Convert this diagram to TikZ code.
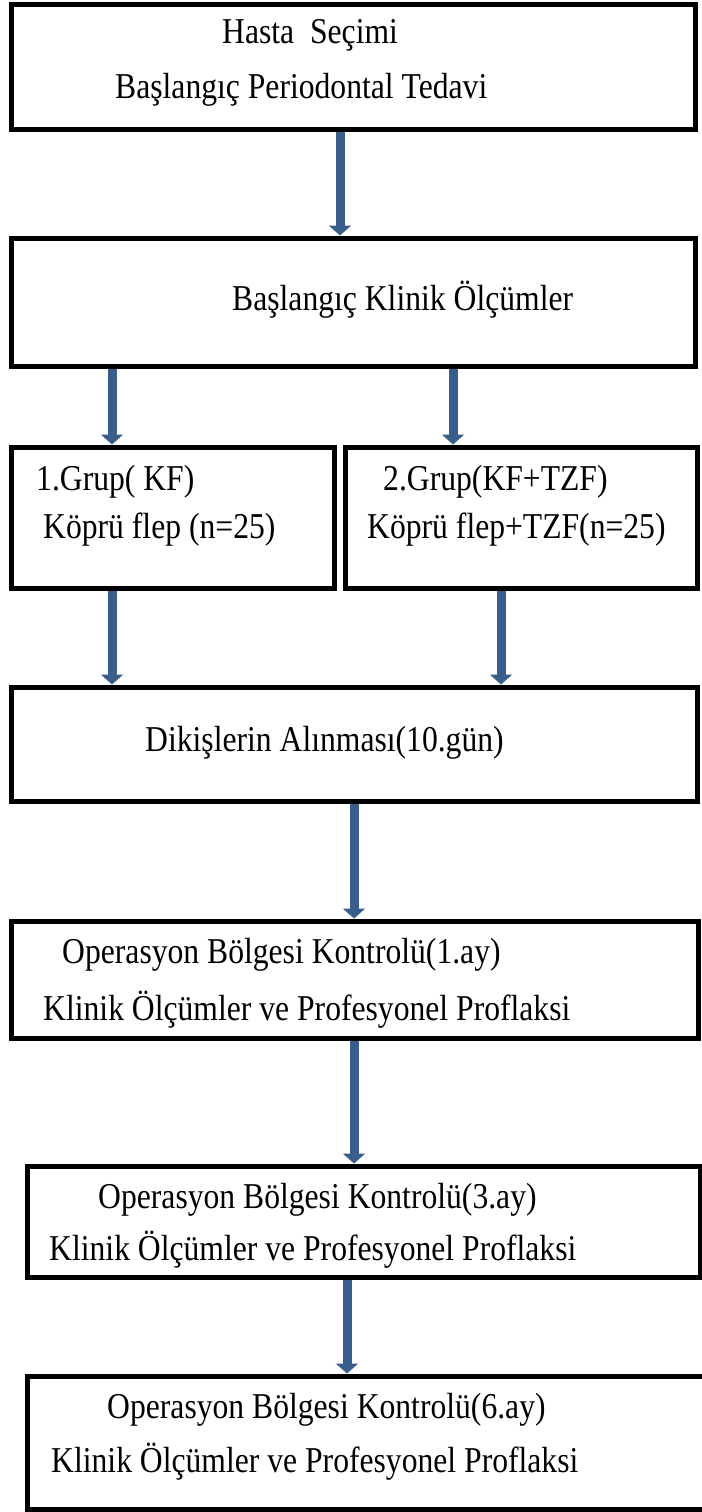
\documentclass[tikz,border=0pt]{standalone}
\usepackage{fontspec}
\setmainfont{Liberation Serif}
\usetikzlibrary{arrows.meta,fit}
\definecolor{flowblue}{RGB}{58,94,140}

\begin{document}
\begin{tikzpicture}[
  x=0.03cm, y=-0.03cm,
  box/.style={draw, line width=0.15cm, inner sep=0pt},
  txt/.style={anchor=west, inner sep=0pt, yscale=1.15, transform shape,
    font=\fontsize{27}{32}\selectfont},
  flow/.style={flowblue, line width=0.27cm,
    -{Triangle[width=0.66cm,length=0.3cm]}},
  ]
  \useasboundingbox (0,0) rectangle (702,1512);
  \clip (0,0) rectangle (702,1512);
  % Boxes
  \node[box, fit={(11,4) (695,129)}] (secim) {};
  \node[box, fit={(11,238) (695,366)}] (olcum) {};
  \node[box, fit={(11,447) (334,588)}] (grupA) {};
  \node[box, fit={(345,447) (697,588)}] (grupB) {};
  \node[box, fit={(11,687) (697,801)}] (dikis) {};
  \node[box, fit={(11,921) (698,1038)}] (ayA) {};
  \node[box, fit={(27,1166) (700,1277)}] (ayB) {};
  \node[box, fit={(27,1376) (720,1509)}] (ayC) {};
  % Texts
  \node[txt] (secim1) at (222,35) {Hasta\ \ Seçimi};
  \node[txt] (secim2) at (115,90) {Başlangıç Periodontal Tedavi};
  \node[txt] (olcum1) at (232,300) {Başlangıç Klinik Ölçümler};
  \node[txt] (grupA1) at (36,482) {1.Grup( KF)};
  \node[txt] (grupA2) at (43,530) {Köprü flep (n=25)};
  \node[txt] (grupB1) at (383,482) {2.Grup(KF+TZF)};
  \node[txt] (grupB2) at (367,530) {Köprü flep+TZF(n=25)};
  \node[txt] (dikis1) at (145,743) {Dikişlerin Alınması(10.gün)};
  \node[txt] (ayA1) at (62,955) {Operasyon Bölgesi Kontrolü(1.ay)};
  \node[txt] (ayA2) at (43,1010) {Klinik Ölçümler ve Profesyonel Proflaksi};
  \node[txt] (ayB1) at (98,1200) {Operasyon Bölgesi Kontrolü(3.ay)};
  \node[txt] (ayB2) at (49,1250) {Klinik Ölçümler ve Profesyonel Proflaksi};
  \node[txt] (ayC1) at (107,1410) {Operasyon Bölgesi Kontrolü(6.ay)};
  \node[txt] (ayC2) at (51,1462) {Klinik Ölçümler ve Profesyonel Proflaksi};
  % Arrow columns
  \coordinate (c1) at (340,0);
  \coordinate (c2) at (112,0);
  \coordinate (c3) at (453,0);
  \coordinate (c4) at (501,0);
  \coordinate (c5) at (354,0);
  \coordinate (c6) at (347,0);
  % Arrows
  \draw[flow] (secim.south -| c1) -- (olcum.north -| c1);
  \draw[flow] (olcum.south -| c2) -- (grupA.north -| c2);
  \draw[flow] (olcum.south -| c3) -- (grupB.north -| c3);
  \draw[flow] (grupA.south -| c2) -- (dikis.north -| c2);
  \draw[flow] (grupB.south -| c4) -- (dikis.north -| c4);
  \draw[flow] (dikis.south -| c5) -- (ayA.north -| c5);
  \draw[flow] (ayA.south -| c5) -- (ayB.north -| c5);
  \draw[flow] (ayB.south -| c6) -- (ayC.north -| c6);
\end{tikzpicture}
\end{document}
